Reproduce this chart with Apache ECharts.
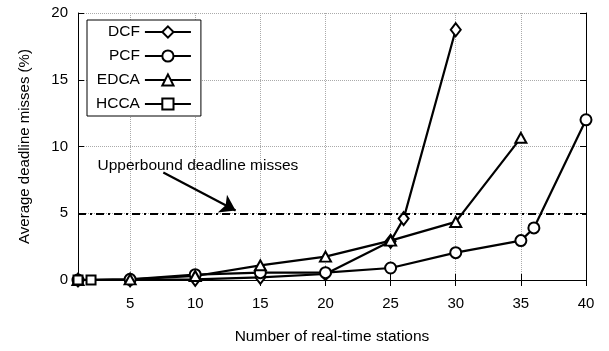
<!DOCTYPE html>
<html>
<head>
<meta charset="utf-8">
<script src="https://cdn.jsdelivr.net/npm/echarts@6/dist/echarts.min.js"></script>
<style>
  html, body { margin: 0; padding: 0; background: #fff; }
  #main { width: 609px; height: 351px; }
</style>
</head>
<body>
<div id="main"></div>
<script>
// tick labels
const xTicks = [5, 10, 15, 20, 25, 30, 35, 40];
const yTicks = [0, 5, 10, 15, 20];

// series values (x = number of stations, y = deadline misses %)
const dcfX = [1, 5, 10, 15, 20, 25, 26, 30];
const dcfY = [0, 0, 0.05, 0.2, 0.45, 2.9, 4.6, 18.75];
const pcfX = [1, 5, 10, 15, 20, 25, 30, 35, 36, 40];
const pcfY = [0, 0.05, 0.4, 0.55, 0.55, 0.9, 2.05, 2.95, 3.9, 12.0];
const edcaX = [1, 5, 10, 15, 20, 25, 30, 35];
const edcaY = [0, 0.05, 0.3, 1.1, 1.75, 2.95, 4.35, 10.65];
const hccaX = [1, 2];
const hccaY = [0, 0];

// annotation
const upperBound = 5;
const noteText = "Upperbound deadline misses";
const notePos = [2.5, 8.55];
const arrowFrom = [7.55, 8.05];
const arrowTo = [13.1, 5.2];

const FONT = "Liberation Sans";

function pairs(xs, ys) {
  return xs.map((x, i) => [x, ys[i]]);
}

function makeSeries(name, symbol, size, xs, ys) {
  return {
    name: name,
    type: "line",
    data: pairs(xs, ys),
    symbol: symbol,
    symbolSize: size,
    showAllSymbol: true,
    lineStyle: { color: "#000", width: 2.2 },
    itemStyle: { color: "#fff", borderColor: "#000", borderWidth: 2 },
    emphasis: { disabled: true }
  };
}

let chart = echarts.init(document.getElementById("main"));

let series = [
  makeSeries("DCF", "diamond", [10, 13], dcfX, dcfY),
  makeSeries("PCF", "circle", 11, pcfX, pcfY),
  makeSeries("EDCA", "triangle", [11, 10], edcaX, edcaY),
  makeSeries("HCCA", "rect", 9, hccaX, hccaY)
];

// upper bound line, arrow and its note
series[3].markLine = {
  silent: true,
  symbol: ["none", "none"],
  label: { show: false },
  animation: false,
  data: [
    { yAxis: upperBound, lineStyle: { color: "#000", width: 2, type: [8, 4, 2, 4] } },
    [
      { coord: arrowFrom, symbol: "none" },
      { coord: arrowTo, symbol: "arrow", symbolSize: 15, lineStyle: { color: "#000", width: 2.2, type: "solid" } }
    ]
  ]
};
series[3].markPoint = {
  silent: true,
  animation: false,
  data: [{
    coord: notePos,
    symbol: "circle",
    symbolSize: 0,
    label: {
      show: true,
      position: "right",
      distance: 0,
      formatter: noteText,
      color: "#000",
      fontSize: 15.5,
      fontFamily: FONT
    }
  }]
};

let option = {
  animation: false,
  textStyle: { fontFamily: FONT },
  grid: { left: 78, right: 23, top: 13, bottom: 71 },
  legend: {
    data: ["DCF", "PCF", "EDCA", "HCCA"],
    orient: "vertical",
    align: "right",
    left: 87,
    top: 20,
    itemWidth: 46,
    itemHeight: 14,
    itemGap: 8,
    padding: [4, 9, 4, 9],
    borderColor: "#000",
    borderWidth: 1,
    borderRadius: 0,
    backgroundColor: "#fff",
    textStyle: { fontSize: 15.5, color: "#000", fontFamily: FONT }
  },
  xAxis: [
    {
      type: "value",
      min: 1,
      max: 40,
      name: "Number of real-time stations",
      nameLocation: "middle",
      nameGap: 49,
      nameTextStyle: { fontSize: 15.5, color: "#000", fontFamily: FONT },
      axisLine: { lineStyle: { color: "#000", width: 1 } },
      axisTick: { inside: true, length: 6, customValues: xTicks, lineStyle: { color: "#000" } },
      axisLabel: { customValues: xTicks, margin: 16, fontSize: 15, color: "#000", fontFamily: FONT },
      splitLine: { show: true, lineStyle: { color: "#aaa", type: "dotted", width: 1 } }
    },
    {
      type: "value",
      position: "top",
      min: 1,
      max: 40,
      axisLine: { lineStyle: { color: "#000", width: 1 } },
      axisTick: { inside: true, length: 6, customValues: xTicks, lineStyle: { color: "#000" } },
      axisLabel: { show: false },
      splitLine: { show: false }
    }
  ],
  yAxis: [
    {
      type: "value",
      min: 0,
      max: 20,
      interval: 5,
      name: "Average deadline misses (%)",
      nameLocation: "middle",
      nameGap: 46,
      nameTextStyle: { fontSize: 15, color: "#000", fontFamily: FONT },
      axisLine: { show: true, lineStyle: { color: "#000", width: 1 } },
      axisTick: { show: true, inside: true, length: 6, lineStyle: { color: "#000" } },
      axisLabel: { margin: 10, fontSize: 15, color: "#000", fontFamily: FONT },
      splitLine: { show: true, lineStyle: { color: "#aaa", type: "dotted", width: 1 } }
    },
    {
      type: "value",
      position: "right",
      min: 0,
      max: 20,
      interval: 5,
      axisLine: { show: true, lineStyle: { color: "#000", width: 1 } },
      axisTick: { show: true, inside: true, length: 6, lineStyle: { color: "#000" } },
      axisLabel: { show: false },
      splitLine: { show: false }
    }
  ],
  series: series
};

chart.setOption(option);
</script>
</body>
</html>
